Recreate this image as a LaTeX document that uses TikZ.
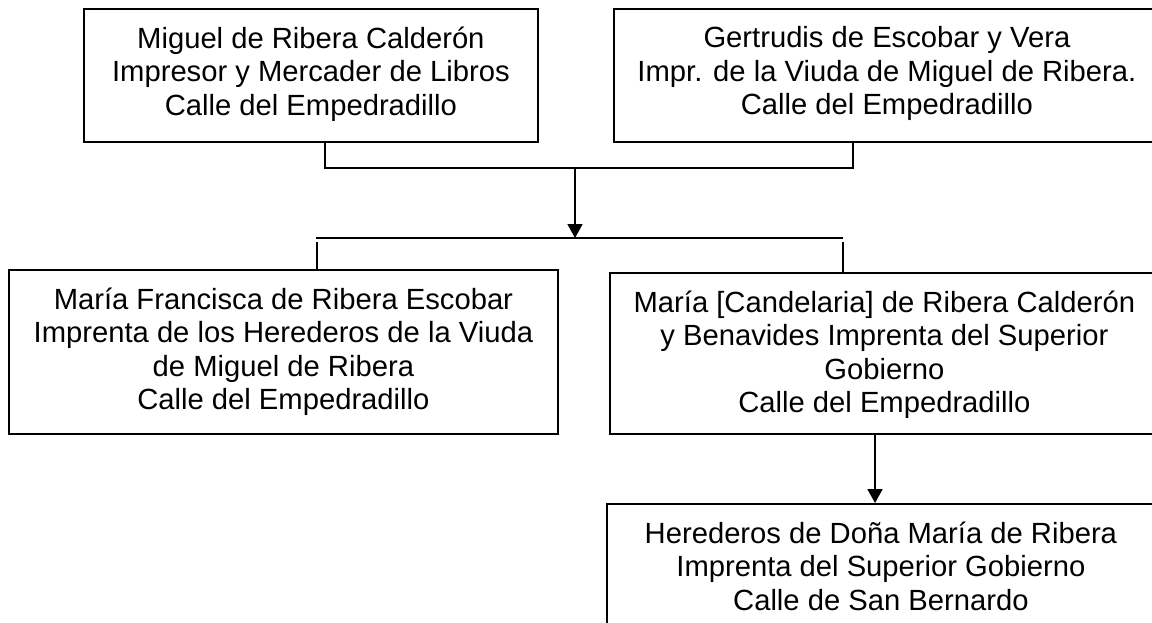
\documentclass[tikz,border=0pt]{standalone}
\usepackage{fontspec}
\setmainfont{Liberation Sans}
\usetikzlibrary{arrows.meta}
\tikzset{
  box/.style={draw=black, line width=1.8pt, rectangle, inner sep=0pt, anchor=north west},
  txt/.style={anchor=north, inner sep=0pt, align=center, font=\fontsize{29.2}{33.5}\selectfont},
  conn/.style={draw=black, line width=1.8pt},
  arr/.style={conn, -{Triangle[width=15pt,length=14pt]}},
}
\begin{document}
\begin{tikzpicture}[x=1pt,y=-1pt]
\useasboundingbox (0,0) rectangle (1152,622);
\clip (0,0) rectangle (1152,622);
% boxes
\node[box, minimum width=454pt, minimum height=133pt] (b1) at (83,8) {};
\node[box, minimum width=546pt, minimum height=133pt] (b2) at (613,8) {};
\node[box, minimum width=549pt, minimum height=164pt] (b3) at (8,269) {};
\node[box, minimum width=549pt, minimum height=161pt] (b4) at (609,272) {};
\node[box, minimum width=548pt, minimum height=126pt] (b5) at (606,503) {};
% texts
\node[txt] (t1) at ([yshift=-18.5pt]b1.north) {Miguel de Ribera Calderón\\Impresor y Mercader de Libros\\Calle del Empedradillo};
\node[txt] (t2) at ([yshift=-18.5pt]b2.north) {Gertrudis de Escobar y Vera\\Impr. de la Viuda de Miguel de Ribera.\\Calle del Empedradillo};
\node[txt] (t3) at ([yshift=-18.5pt]b3.north) {María Francisca de Ribera Escobar\\Imprenta de los Herederos de la Viuda\\de Miguel de Ribera\\Calle del Empedradillo};
\node[txt] (t4) at ([yshift=-18.5pt]b4.north) {María [Candelaria] de Ribera Calderón\\y Benavides Imprenta del Superior\\Gobierno\\Calle del Empedradillo};
\node[txt] (t5) at ([yshift=-18.5pt]b5.north) {Herederos de Doña María de Ribera\\Imprenta del Superior Gobierno\\Calle de San Bernardo};
% connector coordinates
\coordinate (j1) at (325,168);
\coordinate (j2) at (853,168);
\coordinate (jm) at (575,168);
\coordinate (am) at (575,238);
\coordinate (h0) at (316,238);
\coordinate (h1) at (843,238);
\coordinate (k0) at (317,242);
\coordinate (k1) at (843,242);
\coordinate (a2) at (875,0);
% connectors
\draw[conn] (b1.south -| j1) -- (j1) -- (j2) -- (b2.south -| j2);
\draw[arr] (jm) -- (am);
\draw[conn] (h0) -- (h1);
\draw[conn] (k0) -- (b3.north -| k0);
\draw[conn] (k1) -- (b4.north -| k1);
\draw[arr] (b4.south -| a2) -- (b5.north -| a2);
\end{tikzpicture}
\end{document}
